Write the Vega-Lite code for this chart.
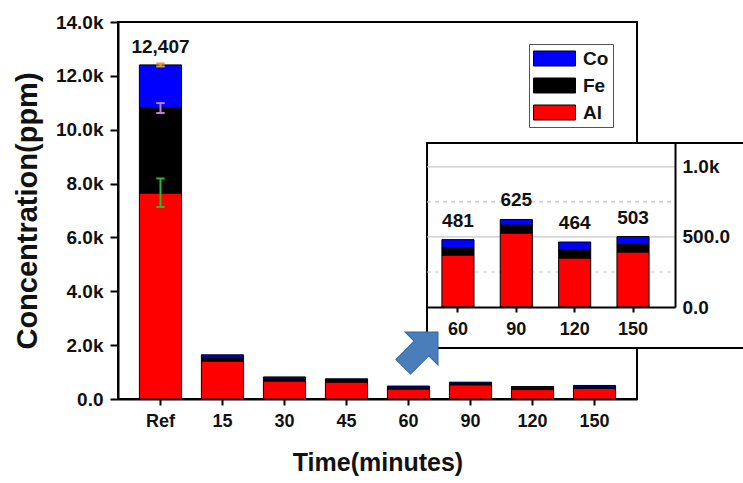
{
  "$schema": "https://vega.github.io/schema/vega-lite/v6.json",
  "width": 519,
  "height": 377,
  "autosize": {"type": "none"},
  "padding": {"left": 118, "top": 22, "right": 106, "bottom": 84},
  "background": "white",
  "config": {
    "font": "Liberation Sans",
    "view": {"stroke": "black", "strokeWidth": 2},
    "axis": {"labelColor": "#111111", "titleColor": "#111111", "domainColor": "black", "tickColor": "black", "labelFontWeight": "bold", "titleFontWeight": "bold"},
    "legend": {"strokeColor": "#555555", "strokeWidth": 1, "fillColor": "white"}
  },
  "datasets": {
    "main": [
      {"time": "Ref", "el": "Al", "v": 7650, "k": 1},
      {"time": "Ref", "el": "Fe", "v": 3156, "k": 2},
      {"time": "Ref", "el": "Co", "v": 1601, "k": 3},
      {"time": "15", "el": "Al", "v": 1410, "k": 1},
      {"time": "15", "el": "Fe", "v": 140, "k": 2},
      {"time": "15", "el": "Co", "v": 90, "k": 3},
      {"time": "30", "el": "Al", "v": 670, "k": 1},
      {"time": "30", "el": "Fe", "v": 80, "k": 2},
      {"time": "30", "el": "Co", "v": 70, "k": 3},
      {"time": "45", "el": "Al", "v": 630, "k": 1},
      {"time": "45", "el": "Fe", "v": 80, "k": 2},
      {"time": "45", "el": "Co", "v": 40, "k": 3},
      {"time": "60", "el": "Al", "v": 371, "k": 1},
      {"time": "60", "el": "Fe", "v": 50, "k": 2},
      {"time": "60", "el": "Co", "v": 60, "k": 3},
      {"time": "90", "el": "Al", "v": 528, "k": 1},
      {"time": "90", "el": "Fe", "v": 57, "k": 2},
      {"time": "90", "el": "Co", "v": 40, "k": 3},
      {"time": "120", "el": "Al", "v": 350, "k": 1},
      {"time": "120", "el": "Fe", "v": 57, "k": 2},
      {"time": "120", "el": "Co", "v": 57, "k": 3},
      {"time": "150", "el": "Al", "v": 393, "k": 1},
      {"time": "150", "el": "Fe", "v": 55, "k": 2},
      {"time": "150", "el": "Co", "v": 55, "k": 3}
    ],
    "totals": [
      {"time": "Ref", "total": 12407},
      {"time": "15", "total": 1640},
      {"time": "30", "total": 820},
      {"time": "45", "total": 750},
      {"time": "60", "total": 481},
      {"time": "90", "total": 625},
      {"time": "120", "total": 464},
      {"time": "150", "total": 503}
    ],
    "err": [
      {"time": "Ref", "el": "Al", "lo": 7130, "hi": 8190},
      {"time": "Ref", "el": "Fe", "lo": 10620, "hi": 10990},
      {"time": "Ref", "el": "Co", "lo": 12350, "hi": 12460}
    ],
    "grid": [{"g": 250}, {"g": 500}, {"g": 750}, {"g": 1000}]
  },
  "layer": [
    {
      "layer": [
        {
          "data": {"name": "main"},
          "mark": {"type": "bar", "stroke": "black", "strokeWidth": 1},
          "encoding": {
            "x": {
              "field": "time", "type": "ordinal",
              "scale": {"type": "band", "domain": ["Ref", "15", "30", "45", "60", "90", "120", "150"], "paddingInner": 0.32, "paddingOuter": 0.345},
              "axis": {"orient": "bottom", "title": "Time(minutes)", "titleFontSize": 25, "titlePadding": 20, "labelFontSize": 18, "labelAngle": 0, "labelPadding": 7, "tickSize": 6, "tickWidth": 2, "domainWidth": 2}
            },
            "y": {
              "field": "v", "type": "quantitative", "stack": "zero",
              "scale": {"domain": [0, 14000], "nice": false},
              "axis": {"orient": "left", "title": "Concentration(ppm)", "titleFontSize": 29, "titlePadding": 13, "values": [0, 2000, 4000, 6000, 8000, 10000, 12000, 14000], "labelExpr": "datum.value == 0 ? '0.0' : format(datum.value / 1000, '.1f') + 'k'", "labelFontSize": 19, "labelPadding": 7, "tickSize": 8, "tickWidth": 2, "domainWidth": 2, "grid": false}
            },
            "fill": {
              "field": "el", "type": "nominal",
              "scale": {"domain": ["Co", "Fe", "Al"], "range": ["#0000FF", "#000000", "#FF0000"]},
              "legend": {"orient": "none", "legendX": 411, "legendY": 22, "title": null, "symbolType": "M-1,-0.75H3.2V0.75H-1Z", "symbolSize": 400, "symbolStrokeColor": "#222222", "symbolStrokeWidth": 1, "symbolOpacity": 1, "labelFontSize": 19, "labelFontWeight": "bold", "labelColor": "#111111", "labelOffset": 29, "rowPadding": 6, "padding": 4, "strokeColor": "#555555", "fillColor": "white"}
            },
            "order": {"field": "k", "type": "quantitative"}
          }
        },
        {
          "data": {"name": "err"},
          "mark": {"type": "rule", "strokeWidth": 2},
          "encoding": {
            "x": {"field": "time", "type": "ordinal"},
            "y": {"field": "lo", "type": "quantitative"},
            "y2": {"field": "hi"},
            "stroke": {"field": "el", "type": "nominal", "scale": {"domain": ["Al", "Fe", "Co"], "range": ["#2db82d", "#c77dd6", "#e0a030"]}, "legend": null}
          }
        },
        {
          "data": {"name": "err"},
          "mark": {"type": "rule", "strokeWidth": 2},
          "encoding": {
            "x": {"datum": "Ref", "type": "ordinal", "bandPosition": 0.4},
            "x2": {"datum": "Ref", "bandPosition": 0.6},
            "y": {"field": "lo", "type": "quantitative"},
            "stroke": {"field": "el", "type": "nominal", "legend": null}
          }
        },
        {
          "data": {"name": "err"},
          "mark": {"type": "rule", "strokeWidth": 2},
          "encoding": {
            "x": {"datum": "Ref", "type": "ordinal", "bandPosition": 0.4},
            "x2": {"datum": "Ref", "bandPosition": 0.6},
            "y": {"field": "hi", "type": "quantitative"},
            "stroke": {"field": "el", "type": "nominal", "legend": null}
          }
        },
        {
          "data": {"name": "totals"},
          "transform": [{"filter": "datum.time == 'Ref'"}],
          "mark": {"type": "text", "baseline": "bottom", "dy": -8, "fontSize": 19, "fontWeight": "bold", "color": "#111111"},
          "encoding": {
            "x": {"field": "time", "type": "ordinal"},
            "y": {"field": "total", "type": "quantitative"},
            "text": {"field": "total", "type": "quantitative", "format": ","}
          }
        }
      ]
    },
    {
      "layer": [
        {
          "data": {"values": [{}]},
          "mark": {"type": "rect", "fill": "white", "stroke": "black", "strokeWidth": 2},
          "encoding": {
            "x": {"datum": "60", "type": "ordinal", "bandPosition": -0.464,
              "scale": {"type": "band", "domain": ["60", "90", "120", "150"], "range": [309, 557], "paddingInner": 0.45, "paddingOuter": 0.35, "align": 0.365},
              "axis": {"orient": "bottom", "offset": -92, "title": null, "labelFontSize": 18, "labelAngle": 0, "labelPadding": 8, "tickSize": 5, "tickWidth": 2, "domainWidth": 2, "zindex": 1}
            },
            "x2": {"datum": "150", "bandPosition": 4.39},
            "y": {"datum": 1171, "type": "quantitative",
              "scale": {"domain": [0, 1171], "range": [285, 121], "nice": false, "zero": false},
              "axis": {"orient": "right", "offset": 38, "title": null, "values": [0, 500, 1000], "labelExpr": "datum.value >= 1000 ? format(datum.value / 1000, '.1f') + 'k' : format(datum.value, '.1f')", "labelFontSize": 19, "labelPadding": 7, "ticks": false, "domainWidth": 2, "grid": false, "zindex": 1}
            },
            "y2": {"datum": -293}
          }
        },
        {
          "data": {"name": "grid"},
          "mark": {"type": "rule", "color": "#c8c8c8", "strokeWidth": 1.2},
          "encoding": {
            "x": {"datum": "60", "type": "ordinal", "bandPosition": -0.464},
            "x2": {"datum": "150", "bandPosition": 1.807},
            "y": {"field": "g", "type": "quantitative"},
            "strokeDash": {"condition": {"test": "datum.g % 500 == 0", "value": [1, 0]}, "value": [4, 4]}
          }
        },
        {
          "data": {"name": "main"},
          "transform": [{"filter": {"field": "time", "oneOf": ["60", "90", "120", "150"]}}],
          "mark": {"type": "bar", "stroke": "black", "strokeWidth": 1},
          "encoding": {
            "x": {"field": "time", "type": "ordinal"},
            "y": {"field": "v", "type": "quantitative", "stack": "zero"},
            "fill": {"field": "el", "type": "nominal"},
            "order": {"field": "k", "type": "quantitative"}
          }
        },
        {
          "data": {"name": "totals"},
          "transform": [{"filter": {"field": "time", "oneOf": ["60", "90", "120", "150"]}}],
          "mark": {"type": "text", "baseline": "bottom", "dy": -9, "fontSize": 19, "fontWeight": "bold", "color": "#111111"},
          "encoding": {
            "x": {"field": "time", "type": "ordinal"},
            "y": {"field": "total", "type": "quantitative"},
            "text": {"field": "total", "type": "quantitative", "format": ","}
          }
        }
      ]
    },
    {
      "data": {"values": [{}]},
      "mark": {"type": "point", "shape": "M-1,-0.42L0.05,-0.42L0.05,-0.95L1,0L0.05,0.95L0.05,0.42L-1,0.42Z", "size": 2421, "angle": 315, "filled": true, "fill": "#4a7ebb", "stroke": "#35649c", "strokeWidth": 1, "opacity": 1},
      "encoding": {
        "x": {"datum": "60", "type": "ordinal", "bandPosition": 0.787,
          "scale": {"type": "band", "domain": ["Ref", "15", "30", "45", "60", "90", "120", "150"], "paddingInner": 0.32, "paddingOuter": 0.345},
          "axis": null},
        "y": {"datum": 1842, "type": "quantitative", "scale": {"domain": [0, 14000], "nice": false}, "axis": null}
      }
    }
  ],
  "resolve": {"scale": {"x": "independent", "y": "independent"}, "axis": {"x": "independent", "y": "independent"}}
}
